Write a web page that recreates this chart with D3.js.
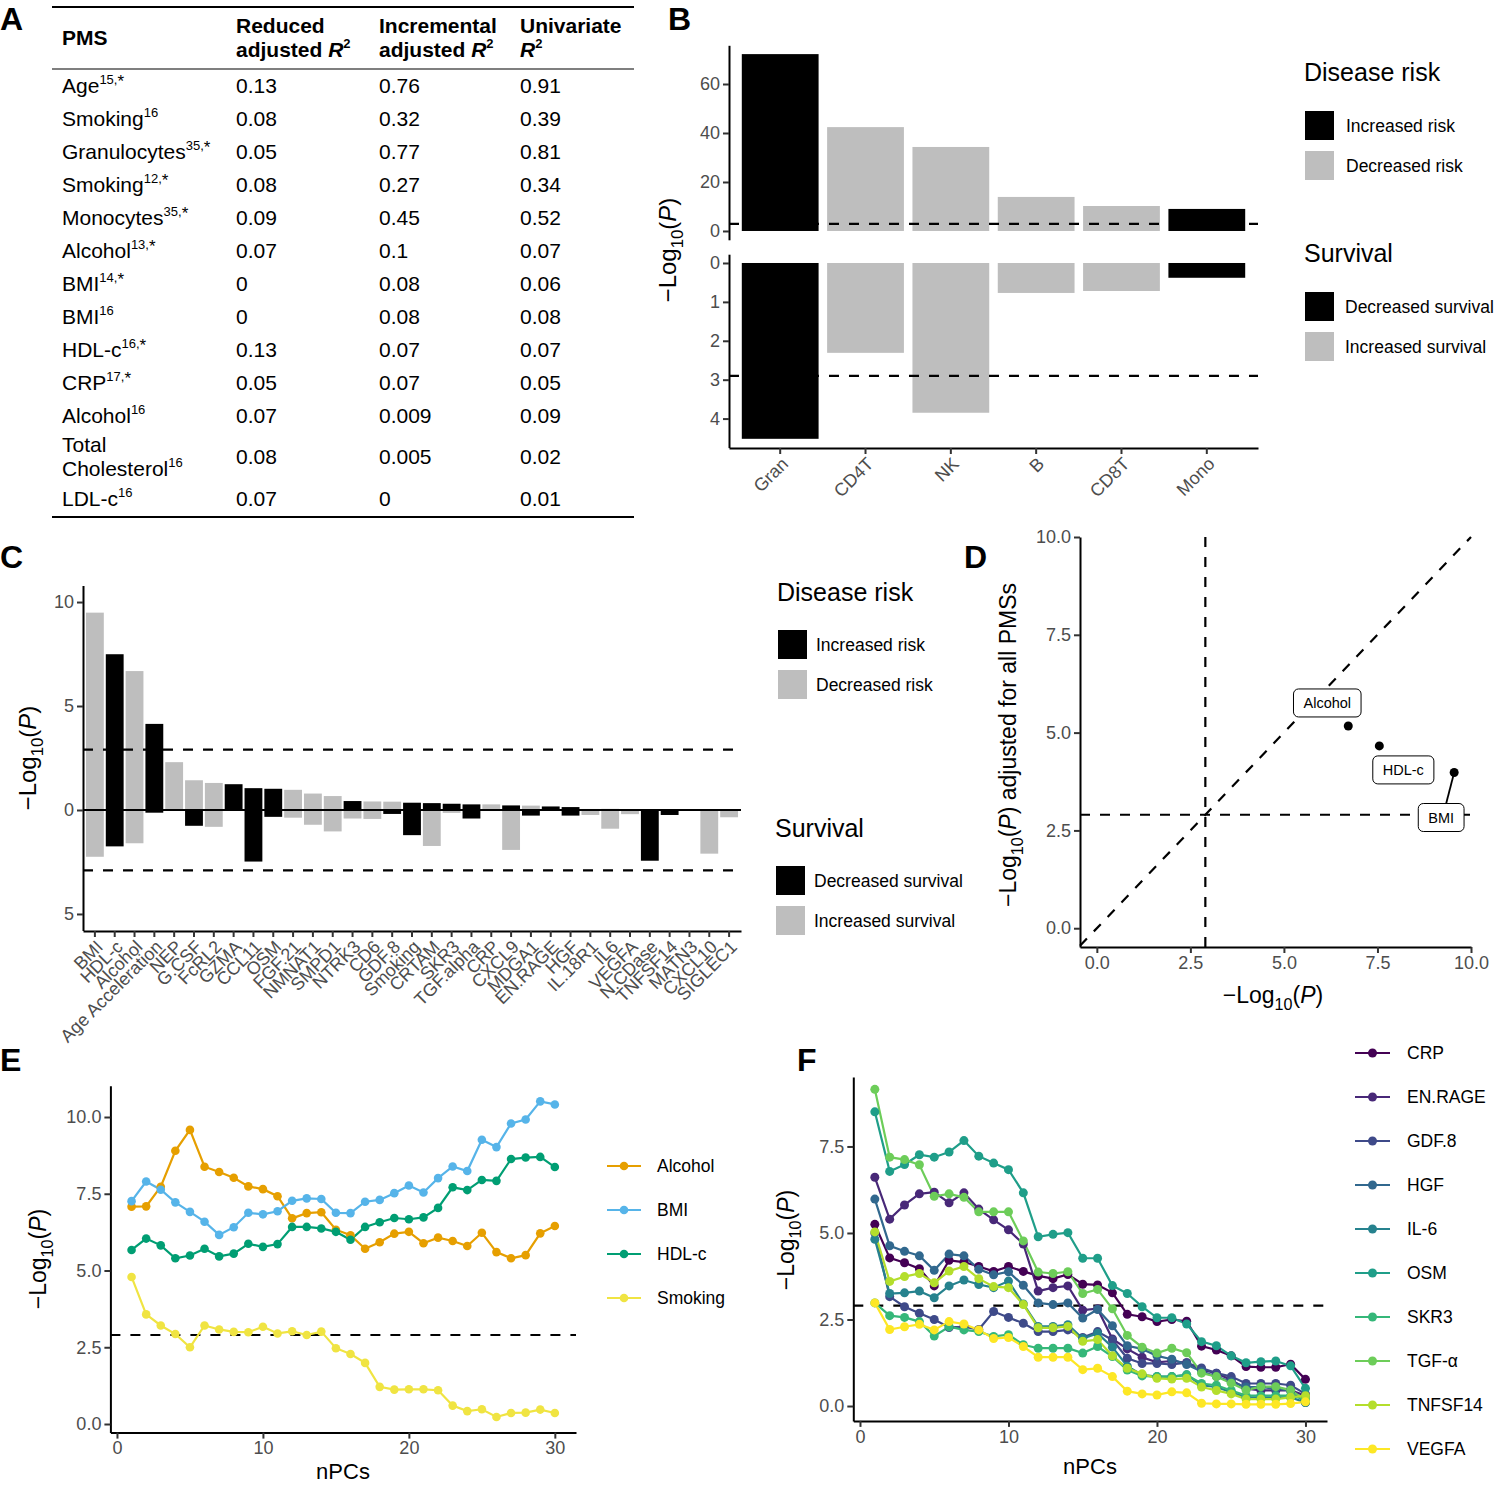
<!DOCTYPE html>
<html><head><meta charset="utf-8">
<script src="https://cdn.jsdelivr.net/npm/d3@7"></script>
<style>
body{margin:0;background:#fff;}
svg{display:block;}
</style></head><body>
<svg id="fig" width="1495" height="1486"></svg>
<script>
// ===================== DATA =====================
// Panel A
const tableHeaderLines = [["PMS"], ["Reduced", "adjusted R²"], ["Incremental", "adjusted R²"], ["Univariate", "R²"]];
const pmsNames = ["Age","Smoking","Granulocytes","Smoking","Monocytes","Alcohol","BMI","BMI","HDL-c","CRP","Alcohol","Total Cholesterol","LDL-c"];
const pmsRefs = ["15,*","16","35,*","12,*","35,*","13,*","14,*","16","16,*","17,*","16","16","16"];
const reducedR2 = ["0.13","0.08","0.05","0.08","0.09","0.07","0","0","0.13","0.05","0.07","0.08","0.07"];
const incrementalR2 = ["0.76","0.32","0.77","0.27","0.45","0.1","0.08","0.08","0.07","0.07","0.009","0.005","0"];
const univariateR2 = ["0.91","0.39","0.81","0.34","0.52","0.07","0.06","0.08","0.07","0.05","0.09","0.02","0.01"];

// Panel B
const cellTypes = ["Gran","CD4T","NK","B","CD8T","Mono"];
const cellRiskP = [72.2, 42.4, 34.3, 13.9, 10.2, 9.0];
const cellRiskDir = ["Increased risk","Decreased risk","Decreased risk","Decreased risk","Decreased risk","Increased risk"];
const cellSurvP = [4.52, 2.31, 3.85, 0.77, 0.72, 0.38];
const cellSurvDir = ["Decreased survival","Increased survival","Increased survival","Increased survival","Increased survival","Decreased survival"];
const threshold = 2.9;

// Panel C
const pmsList = ["BMI","HDL-c","Alcohol","Age Acceleration","NEP","G.CSF","FcRL2","GZMA","CCL11","OSM","FGF.21","NMNAT1","SMPD1","NTRK3","CD6","GDF.8","Smoking","CRTAM","SKR3","TGF.alpha","CRP","CXCL9","MDGA1","EN.RAGE","HGF","IL.18R1","IL6","VEGFA","N.CDase","TNFSF14","MATN3","CXCL10","SIGLEC1"];
const pmsRiskP = [9.49,7.49,6.68,4.14,2.30,1.43,1.30,1.24,1.05,1.02,0.97,0.79,0.67,0.43,0.41,0.40,0.35,0.33,0.30,0.27,0.27,0.22,0.21,0.17,0.14,0.05,0.05,0.04,0.03,0.03,0.02,0.02,0.01];
const pmsRiskDir = ["D","I","D","I","D","D","D","I","I","I","D","D","D","I","D","D","I","I","I","I","D","I","D","I","I","D","I","D","I","I","D","D","D"];
const pmsSurvP = [2.25,1.75,1.60,0.13,0.02,0.76,0.81,0.02,2.48,0.33,0.37,0.71,1.03,0.41,0.43,0.19,1.21,1.73,0.14,0.41,0.05,1.92,0.27,0.03,0.27,0.24,0.90,0.20,2.44,0.24,0.02,2.10,0.35];
const pmsSurvDir = ["I","D","I","D","I","D","I","D","D","D","I","I","I","I","I","D","D","I","I","D","I","I","D","D","D","I","I","I","D","D","I","I","I"];

// Panel D
const dNames = ["Alcohol","HDL-c","BMI"];
const dLogP = [6.72, 7.55, 9.55];
const dLogPAdj = [5.17, 4.66, 3.98];

// Panel E
const nPCs = [1,2,3,4,5,6,7,8,9,10,11,12,13,14,15,16,17,18,19,20,21,22,23,24,25,26,27,28,29,30];
const eNames = ["Alcohol","BMI","HDL-c","Smoking"];
const eAlcohol = [7.08,7.09,7.73,8.90,9.58,8.38,8.21,8.02,7.74,7.65,7.42,6.70,6.87,6.90,6.33,6.15,5.71,5.92,6.20,6.26,5.89,6.07,5.96,5.80,6.23,5.60,5.40,5.50,6.21,6.45];
const eBMI = [7.26,7.90,7.63,7.22,6.91,6.59,6.16,6.41,6.88,6.83,6.93,7.27,7.35,7.33,6.88,6.87,7.24,7.30,7.52,7.77,7.54,8.01,8.39,8.24,9.26,9.02,9.79,9.92,10.51,10.41];
const eHDL = [5.67,6.04,5.82,5.40,5.49,5.71,5.46,5.55,5.87,5.77,5.86,6.42,6.42,6.37,6.26,6.00,6.42,6.57,6.71,6.67,6.73,7.04,7.71,7.62,7.95,7.92,8.63,8.68,8.70,8.37];
const eSmoking = [4.79,3.57,3.21,2.93,2.50,3.21,3.08,3.00,2.99,3.17,2.95,3.02,2.90,3.01,2.47,2.28,1.99,1.21,1.12,1.13,1.13,1.10,0.60,0.42,0.48,0.23,0.36,0.37,0.47,0.36];
const eColors = ["#E69F00","#56B4E9","#009E73","#F0E442"];

// Panel F
const fNames = ["CRP","EN.RAGE","GDF.8","HGF","IL-6","OSM","SKR3","TGF-α","TNFSF14","VEGFA"];
const fCRP = [5.25,4.28,4.14,3.97,3.47,4.21,4.16,4.03,3.89,4.03,3.89,3.76,3.68,3.80,3.52,3.50,3.27,2.65,2.58,2.44,2.50,2.45,1.73,1.62,1.45,1.14,1.12,1.12,1.21,0.77];
const fENRAGE = [6.61,5.40,5.81,6.13,6.18,5.87,6.16,5.69,5.38,5.09,4.68,3.32,3.42,3.47,2.77,2.81,1.94,1.65,1.41,1.26,1.30,1.25,1.05,0.95,0.75,0.50,0.45,0.45,0.45,0.30];
const fGDF8 = [5.00,3.16,2.87,2.68,2.50,2.27,2.29,2.21,2.73,2.56,2.39,2.15,2.15,2.20,1.98,2.15,1.91,1.38,1.23,1.23,1.20,1.25,1.10,0.95,0.85,0.65,0.65,0.65,0.60,0.35];
const fHGF = [5.98,4.63,4.47,4.34,3.92,4.39,4.34,3.95,3.79,3.88,3.49,2.98,2.93,2.98,2.54,2.79,2.32,1.74,1.65,1.45,1.35,1.20,1.00,0.85,0.70,0.55,0.55,0.50,0.45,0.10];
const fIL6 = [4.82,3.25,3.27,3.32,3.13,3.47,3.64,3.51,3.42,3.61,2.95,2.30,2.30,2.35,1.95,2.10,1.70,1.15,0.90,0.85,0.85,0.90,0.60,0.55,0.40,0.25,0.25,0.25,0.25,0.10];
const fOSM = [8.50,6.78,6.98,7.26,7.19,7.34,7.67,7.22,7.02,6.83,6.16,4.89,4.96,5.01,4.27,4.27,3.48,3.25,2.87,2.55,2.55,2.37,1.86,1.74,1.45,1.25,1.28,1.30,1.16,0.51];
const fSKR3 = [2.98,2.61,2.56,2.44,2.02,2.29,2.20,2.15,2.01,2.06,1.77,1.67,1.67,1.67,1.53,1.72,1.43,1.04,0.87,0.85,0.85,0.90,0.65,0.60,0.45,0.30,0.30,0.30,0.30,0.20];
const fTGFa = [9.15,7.19,7.12,6.97,6.06,6.13,6.03,5.61,5.61,5.61,4.77,3.87,3.83,3.88,3.25,3.37,2.81,2.04,1.70,1.53,1.67,1.54,0.95,0.85,0.66,0.46,0.56,0.56,0.46,0.17];
const fTNFSF14 = [5.03,3.60,3.74,3.83,3.56,3.90,4.03,3.68,3.45,3.42,2.93,2.26,2.26,2.30,1.87,1.92,1.45,1.09,0.93,0.80,0.78,0.80,0.55,0.45,0.35,0.20,0.20,0.20,0.25,0.30];
const fVEGFA = [2.98,2.21,2.29,2.36,2.20,2.44,2.37,2.20,1.95,1.98,1.72,1.41,1.41,1.41,1.05,1.09,0.85,0.43,0.35,0.32,0.41,0.38,0.08,0.06,0.06,0.05,0.05,0.05,0.07,0.12];
const fColors = ["#440154","#482878","#3E4A89","#31688E","#26828E","#1F9E89","#35B779","#6DCD59","#B4DE2C","#FDE725"];

// ===================== DRAWING =====================
const FONT = '"Liberation Sans", Arial, Helvetica, sans-serif';
const GRAY = "#BEBEBE";
const TICK_FS = 18;
const svg = d3.select("#fig").attr("font-family", FONT);
svg.append("rect").attr("width", 1495).attr("height", 1486).attr("fill", "#fff");

function styleAxis(g, fs) {
  g.attr("font-family", FONT);
  g.select(".domain").attr("stroke", "#000").attr("stroke-width", 2);
  g.selectAll(".tick line").attr("stroke", "#333").attr("stroke-width", 2);
  g.selectAll(".tick text").attr("fill", "#4D4D4D").attr("font-size", fs || TICK_FS);
}
function rotLabels(g) {
  g.selectAll(".tick text").attr("text-anchor", "end").attr("x", 0).attr("y", 0)
    .attr("dy", "0.71em").attr("transform", "translate(0,8) rotate(-45)");
}
function log10P(text, fs, suffix) {
  text.append("tspan").text("\u2212Log");
  text.append("tspan").attr("font-size", fs * 0.7).attr("dy", fs * 0.3).text("10");
  text.append("tspan").attr("dy", -fs * 0.3).text("(");
  text.append("tspan").attr("font-style", "italic").text("P");
  text.append("tspan").text(")" + (suffix || ""));
}
function yTitle(x, y, fs, suffix) {
  const t = svg.append("text").attr("transform", `translate(${x},${y}) rotate(-90)`)
    .attr("text-anchor", "middle").attr("font-size", fs).attr("fill", "#000");
  log10P(t, fs, suffix);
}
function xTitleLog(x, y, fs) {
  const t = svg.append("text").attr("x", x).attr("y", y).attr("text-anchor", "middle")
    .attr("font-size", fs).attr("fill", "#000");
  log10P(t, fs);
}
function dashed(x1, y1, x2, y2) {
  svg.append("line").attr("x1", x1).attr("y1", y1).attr("x2", x2).attr("y2", y2)
    .attr("stroke", "#000").attr("stroke-width", 2.2).attr("stroke-dasharray", "10,10");
}
function squareLegend(x, labelX, titleY, title, labels, fills, firstKeyY) {
  svg.append("text").attr("x", x).attr("y", titleY).attr("font-size", 25).text(title);
  labels.forEach((l, i) => {
    const ky = firstKeyY + i * 40;
    svg.append("rect").attr("x", x + 1).attr("y", ky).attr("width", 29).attr("height", 29).attr("fill", fills[i]);
    svg.append("text").attr("x", labelX).attr("y", ky + 14.5).attr("dominant-baseline", "central")
      .attr("font-size", 17.5).text(l);
  });
}

// Panel letters
[["A", 0, 30], ["B", 668, 30], ["C", 0, 568], ["D", 964, 568], ["E", 0, 1071], ["F", 797, 1071]].forEach(d => {
  svg.append("text").attr("x", d[1]).attr("y", d[2]).attr("font-size", 32).attr("font-weight", "bold").text(d[0]);
});

// ---------- Panel A: table
(function () {
  const colX = [62, 236, 379, 520];
  const fs = 21;
  svg.append("line").attr("x1", 52).attr("x2", 634).attr("y1", 7).attr("y2", 7).attr("stroke", "#000").attr("stroke-width", 2);
  tableHeaderLines.forEach((lines, c) => {
    const baseY = lines.length === 1 ? 45 : 33;
    lines.forEach((ln, li) => {
      const t = svg.append("text").attr("x", colX[c]).attr("y", baseY + li * 24)
        .attr("font-size", fs).attr("font-weight", "bold");
      if (ln.includes("R²")) {
        const pre = ln.replace("R²", "");
        if (pre) t.append("tspan").text(pre);
        t.append("tspan").attr("font-style", "italic").text("R");
        t.append("tspan").attr("font-size", 13).attr("dy", -9).text("2");
      } else t.text(ln);
    });
  });
  svg.append("line").attr("x1", 52).attr("x2", 634).attr("y1", 69).attr("y2", 69).attr("stroke", "#000").attr("stroke-width", 1.2);
  let top = 69;
  pmsNames.forEach((name, i) => {
    const lines = name.length > 13 ? name.split(" ") : [name];
    const h = 33 + 17 * (lines.length - 1);
    const cy = top + h / 2;
    lines.forEach((ln, li) => {
      const ly = cy + (li - (lines.length - 1) / 2) * 24 + 7;
      const t = svg.append("text").attr("x", colX[0]).attr("y", ly).attr("font-size", fs).text(ln);
      if (li === lines.length - 1) {
        const ref = pmsRefs[i];
        const star = ref.endsWith("*");
        const num = star ? ref.slice(0, -1) : ref;
        t.append("tspan").attr("font-size", 13).attr("dy", -9).text(num);
        if (star) t.append("tspan").attr("font-size", 17).attr("dy", 3).text("*");
      }
    });
    [reducedR2, incrementalR2, univariateR2].forEach((arr, c) => {
      svg.append("text").attr("x", colX[c + 1]).attr("y", cy + 7).attr("font-size", fs).text(arr[i]);
    });
    top += h;
  });
  svg.append("line").attr("x1", 52).attr("x2", 634).attr("y1", top + 2).attr("y2", top + 2).attr("stroke", "#000").attr("stroke-width", 2);
})();

// ---------- Panel B
(function () {
  const fillOf = { "Increased risk": "#000", "Decreased risk": GRAY, "Decreased survival": "#000", "Increased survival": GRAY };
  const x = d3.scaleBand().domain(cellTypes).range([729, 1258]).paddingInner(0.1).paddingOuter(0.15);
  const yTop = d3.scaleLinear().domain([-3.6, 75.8]).range([239.8, 45.3]);
  const yBot = d3.scaleLinear().domain([-0.226, 4.746]).range([254.2, 447.6]);
  svg.append("g").selectAll("rect").data(cellTypes).join("rect")
    .attr("x", d => x(d)).attr("width", x.bandwidth())
    .attr("y", (d, i) => yTop(cellRiskP[i])).attr("height", (d, i) => yTop(0) - yTop(cellRiskP[i]))
    .attr("fill", (d, i) => fillOf[cellRiskDir[i]]);
  svg.append("g").selectAll("rect").data(cellTypes).join("rect")
    .attr("x", d => x(d)).attr("width", x.bandwidth())
    .attr("y", yBot(0)).attr("height", (d, i) => yBot(cellSurvP[i]) - yBot(0))
    .attr("fill", (d, i) => fillOf[cellSurvDir[i]]);
  dashed(729, yTop(threshold), 1258, yTop(threshold));
  dashed(729, yBot(threshold), 1258, yBot(threshold));
  styleAxis(svg.append("g").attr("transform", "translate(729,0)")
    .call(d3.axisLeft(yTop).tickValues([0, 20, 40, 60]).tickSizeOuter(0)));
  styleAxis(svg.append("g").attr("transform", "translate(729,0)")
    .call(d3.axisLeft(yBot).tickValues([0, 1, 2, 3, 4]).tickFormat(d3.format("d")).tickSizeOuter(0)));
  const xa = svg.append("g").attr("transform", "translate(0,448)").call(d3.axisBottom(x).tickSizeOuter(0));
  styleAxis(xa); rotLabels(xa);
  yTitle(676, 250, 24);
  squareLegend(1304, 1346, 81, "Disease risk", ["Increased risk", "Decreased risk"], ["#000", GRAY], 111);
  squareLegend(1304, 1345, 262, "Survival", ["Decreased survival", "Increased survival"], ["#000", GRAY], 292);
})();

// ---------- Panel C
(function () {
  const riskFill = { I: "#000", D: GRAY };
  const survFill = { D: "#000", I: GRAY };
  const x = d3.scaleBand().domain(pmsList).range([83, 741]).paddingInner(0.1).paddingOuter(0.15);
  const y = d3.scaleLinear().domain([-5.8, 10.8]).range([930.6, 585.4]);
  svg.append("g").selectAll("rect").data(pmsList).join("rect")
    .attr("x", d => x(d)).attr("width", x.bandwidth())
    .attr("y", (d, i) => y(pmsRiskP[i])).attr("height", (d, i) => y(0) - y(pmsRiskP[i]))
    .attr("fill", (d, i) => riskFill[pmsRiskDir[i]]);
  svg.append("g").selectAll("rect").data(pmsList).join("rect")
    .attr("x", d => x(d)).attr("width", x.bandwidth())
    .attr("y", y(0)).attr("height", (d, i) => y(-pmsSurvP[i]) - y(0))
    .attr("fill", (d, i) => survFill[pmsSurvDir[i]]);
  svg.append("line").attr("x1", 83).attr("x2", 741).attr("y1", y(0)).attr("y2", y(0)).attr("stroke", "#000").attr("stroke-width", 2);
  dashed(83, y(threshold), 741, y(threshold));
  dashed(83, y(-threshold), 741, y(-threshold));
  styleAxis(svg.append("g").attr("transform", "translate(83,0)")
    .call(d3.axisLeft(y).tickValues([-5, 0, 5, 10]).tickFormat(d => Math.abs(d)).tickSizeOuter(0)));
  const xa = svg.append("g").attr("transform", "translate(0,931)").call(d3.axisBottom(x).tickSizeOuter(0));
  styleAxis(xa, 18); rotLabels(xa);
  yTitle(36, 758, 24);
  squareLegend(777, 816, 601, "Disease risk", ["Increased risk", "Decreased risk"], ["#000", GRAY], 630);
  squareLegend(775, 814, 837, "Survival", ["Decreased survival", "Increased survival"], ["#000", GRAY], 866);
})();

// ---------- Panel D
(function () {
  const x = d3.scaleLinear().domain([-0.45, 10]).range([1080, 1471]);
  const y = d3.scaleLinear().domain([-0.48, 10]).range([947, 537]);
  dashed(x(-0.45), y(-0.45), x(10), y(10));
  dashed(x(threshold), 537, x(threshold), 947);
  dashed(1080, y(threshold), 1473, y(threshold));
  styleAxis(svg.append("g").attr("transform", "translate(1080,0)")
    .call(d3.axisLeft(y).tickValues([0, 2.5, 5, 7.5, 10]).tickFormat(d3.format(".1f")).tickSizeOuter(0)));
  styleAxis(svg.append("g").attr("transform", "translate(0,947)")
    .call(d3.axisBottom(x).tickValues([0, 2.5, 5, 7.5, 10]).tickFormat(d3.format(".1f")).tickSizeOuter(0)));
  // label offsets (layout only)
  const labelOffset = [[-21, -23], [24, 24], [-13, 45]];
  dNames.forEach((n, i) => {
    const px = x(dLogP[i]), py = y(dLogPAdj[i]);
    const lx = px + labelOffset[i][0], ly = py + labelOffset[i][1];
    if (Math.hypot(labelOffset[i][0], labelOffset[i][1]) > 40) {
      svg.append("line").attr("x1", px).attr("y1", py).attr("x2", lx + 5).attr("y2", ly - 14)
        .attr("stroke", "#000").attr("stroke-width", 1.8);
    }
    svg.append("circle").attr("cx", px).attr("cy", py).attr("r", 4.5).attr("fill", "#000");
    const lg = svg.append("g");
    const t = lg.append("text").attr("x", lx).attr("y", ly).attr("text-anchor", "middle")
      .attr("dominant-baseline", "central").attr("font-size", 14.5).text(n);
    const w = t.node().getComputedTextLength();
    lg.insert("rect", "text").attr("x", lx - w / 2 - 10).attr("y", ly - 14).attr("width", w + 20)
      .attr("height", 28).attr("rx", 5).attr("fill", "#fff").attr("stroke", "#000").attr("stroke-width", 1);
  });
  const t = svg.append("text").attr("transform", "translate(1016,745) rotate(-90)")
    .attr("text-anchor", "middle").attr("font-size", 23);
  log10P(t, 23, " adjusted for all PMSs");
  xTitleLog(1273, 1003, 23);
})();

// ---------- Panel E
(function () {
  const x = d3.scaleLinear().domain([-0.45, 31.45]).range([110.4, 576]);
  const y = d3.scaleLinear().domain([-0.28, 11.02]).range([1432.6, 1085.7]);
  dashed(110.4, y(threshold), 576, y(threshold));
  const series = [eAlcohol, eBMI, eHDL, eSmoking];
  const line = d3.line().x((d, i) => x(nPCs[i])).y(d => y(d));
  series.forEach((s, k) => svg.append("path").attr("d", line(s)).attr("fill", "none").attr("stroke", eColors[k]).attr("stroke-width", 2.2));
  series.forEach((s, k) => svg.append("g").selectAll("circle").data(s).join("circle")
    .attr("cx", (d, i) => x(nPCs[i])).attr("cy", d => y(d)).attr("r", 4.3).attr("fill", eColors[k]));
  styleAxis(svg.append("g").attr("transform", "translate(110.4,0)")
    .call(d3.axisLeft(y).tickValues([0, 2.5, 5, 7.5, 10]).tickFormat(d3.format(".1f")).tickSizeOuter(0)));
  styleAxis(svg.append("g").attr("transform", "translate(0,1432.6)")
    .call(d3.axisBottom(x).tickValues([0, 10, 20, 30]).tickSizeOuter(0)));
  yTitle(46, 1259, 23);
  svg.append("text").attr("x", 343).attr("y", 1479).attr("text-anchor", "middle").attr("font-size", 22).text("nPCs");
  eNames.forEach((n, k) => {
    const ly = 1166 + 44 * k;
    svg.append("line").attr("x1", 607).attr("x2", 641).attr("y1", ly).attr("y2", ly).attr("stroke", eColors[k]).attr("stroke-width", 2.2);
    svg.append("circle").attr("cx", 624).attr("cy", ly).attr("r", 4.3).attr("fill", eColors[k]);
    svg.append("text").attr("x", 657).attr("y", ly).attr("dominant-baseline", "central").attr("font-size", 17.5).text(n);
  });
})();

// ---------- Panel F
(function () {
  const x = d3.scaleLinear().domain([-0.45, 31.45]).range([853.3, 1327]);
  const y = d3.scaleLinear().domain([-0.43, 9.51]).range([1420.9, 1076.9]);
  dashed(853.3, y(threshold), 1327, y(threshold));
  const series = [fCRP, fENRAGE, fGDF8, fHGF, fIL6, fOSM, fSKR3, fTGFa, fTNFSF14, fVEGFA];
  const line = d3.line().x((d, i) => x(nPCs[i])).y(d => y(d));
  series.forEach((s, k) => svg.append("path").attr("d", line(s)).attr("fill", "none").attr("stroke", fColors[k]).attr("stroke-width", 2.2));
  series.forEach((s, k) => svg.append("g").selectAll("circle").data(s).join("circle")
    .attr("cx", (d, i) => x(nPCs[i])).attr("cy", d => y(d)).attr("r", 4.5).attr("fill", fColors[k]));
  styleAxis(svg.append("g").attr("transform", "translate(853.3,0)")
    .call(d3.axisLeft(y).tickValues([0, 2.5, 5, 7.5]).tickFormat(d3.format(".1f")).tickSizeOuter(0)));
  styleAxis(svg.append("g").attr("transform", "translate(0,1420.9)")
    .call(d3.axisBottom(x).tickValues([0, 10, 20, 30]).tickSizeOuter(0)));
  yTitle(794, 1240, 23);
  svg.append("text").attr("x", 1090).attr("y", 1474).attr("text-anchor", "middle").attr("font-size", 22).text("nPCs");
  fNames.forEach((n, k) => {
    const ly = 1053 + 44 * k;
    svg.append("line").attr("x1", 1355).attr("x2", 1390).attr("y1", ly).attr("y2", ly).attr("stroke", fColors[k]).attr("stroke-width", 2.2);
    svg.append("circle").attr("cx", 1372.5).attr("cy", ly).attr("r", 4.5).attr("fill", fColors[k]);
    svg.append("text").attr("x", 1407).attr("y", ly).attr("dominant-baseline", "central").attr("font-size", 17.5).text(n);
  });
})();
</script></body></html>
